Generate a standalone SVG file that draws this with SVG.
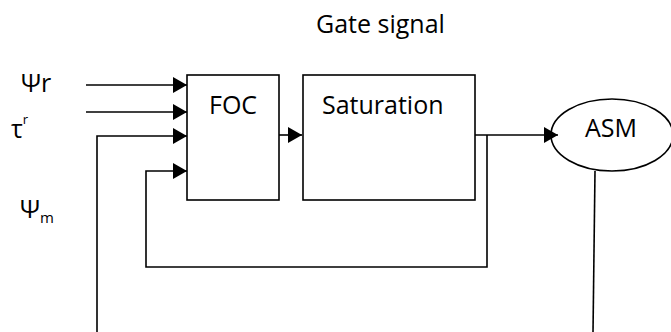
<svg xmlns="http://www.w3.org/2000/svg" width="671" height="332" viewBox="0 0 671 332">
<defs>
<style>
.t{font-family:"Open Sans","Noto Sans","Liberation Sans",sans-serif;font-size:25px;fill:#000}
.box{fill:#fff;stroke:#000;stroke-width:1.6}
.ln{fill:none;stroke:#000;stroke-width:1.6}
</style>
<marker id="ah" markerWidth="14" markerHeight="16" refX="14" refY="8" orient="auto" markerUnits="userSpaceOnUse">
<path d="M0,0 L14,8 L0,16 Z" fill="#000"/>
</marker>
</defs>
<rect width="671" height="332" fill="#fff"/>
<text class="t" x="316" y="33">Gate signal</text>
<g id="labels">
<text class="t" x="21" y="92">Ψr</text>
<text class="t" x="11" y="138">τ<tspan font-size="13" dy="-14">r</tspan></text>
<text class="t" x="20" y="218">Ψ<tspan font-size="15" dy="5">m</tspan></text>
</g>
<g id="foc">
<rect class="box" x="187" y="75" width="92" height="125"/>
<text class="t" x="209" y="114">FOC</text>
</g>
<g id="saturation">
<rect class="box" x="303" y="75" width="172" height="125"/>
<text class="t" x="322" y="114">Saturation</text>
</g>
<g id="asm">
<ellipse class="box" cx="612" cy="135" rx="61" ry="36"/>
<text class="t" x="585" y="137">ASM</text>
</g>
<g id="connectors">
<line class="ln" x1="86" y1="85" x2="187" y2="85" marker-end="url(#ah)"/>
<line class="ln" x1="86" y1="112" x2="187" y2="112" marker-end="url(#ah)"/>
<polyline class="ln" points="97,332 97,136 187,136" marker-end="url(#ah)"/>
<polyline class="ln" points="487,135 487,267 146,267 146,171 187,171" marker-end="url(#ah)"/>
<line class="ln" x1="279" y1="135" x2="302" y2="135" marker-end="url(#ah)"/>
<line class="ln" x1="475" y1="135" x2="558" y2="135" marker-end="url(#ah)"/>
<line class="ln" x1="595" y1="171" x2="593" y2="332"/>
</g>
</svg>
